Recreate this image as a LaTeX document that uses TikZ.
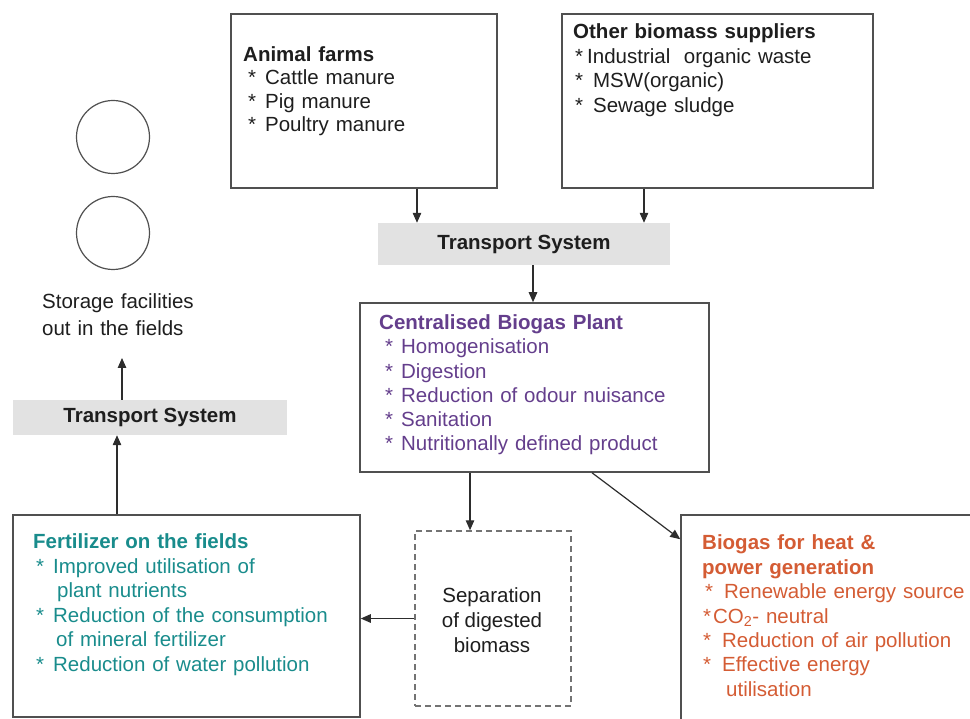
\documentclass[tikz,border=0pt]{standalone}
\usepackage{fontspec}
\setmainfont{Liberation Sans}
\usetikzlibrary{arrows.meta}

\definecolor{boxline}{RGB}{80,80,80}
\definecolor{arrline}{RGB}{45,45,45}
\definecolor{tsfill}{RGB}{226,226,226}
\definecolor{plantcol}{RGB}{100,62,140}
\definecolor{fertcol}{RGB}{25,140,140}
\definecolor{biocol}{RGB}{212,92,52}
\definecolor{txtcol}{RGB}{30,30,30}

\newcommand{\itm}[2]{\hspace*{#1}*\hspace{#2}}

\begin{document}
\begin{tikzpicture}[x=1pt,y=-1pt,>={Triangle[length=10pt,width=8.5pt]}]
    \tikzstyle{box}=[draw=boxline, line width=1.5pt, inner sep=0pt]
    \tikzstyle{tsbox}=[fill=tsfill, inner sep=0pt, font=\fontsize{20.5}{24.5}\selectfont\bfseries, text=txtcol]
    \tikzstyle{tank}=[circle, draw=boxline, line width=1.2pt, minimum size=73pt, inner sep=0pt]
    \tikzstyle{txt}=[anchor=base west, inner sep=0pt, text width=300pt, align=left, text=txtcol]
    \tikzstyle{arr}=[->, draw=arrline, line width=1.2pt]

    \useasboundingbox (0,0) rectangle (970,719);
    \clip (0,0) rectangle (970,719);

    % suppliers
    \node[box, minimum width=266pt, minimum height=174pt] (farms) at (364,101) {};
    \node[box, minimum width=311pt, minimum height=174pt] (others) at (717.5,101) {};
    \node[txt, font=\fontsize{20.5}{23.3}\selectfont] (farmstxt) at (243,61.5)
      {\textbf{Animal farms}\\
       \itm{5pt}{9pt}Cattle manure\\
       \itm{5pt}{9pt}Pig manure\\
       \itm{5pt}{9pt}Poultry manure};
    \node[txt, font=\fontsize{20.5}{24.7}\selectfont] (otherstxt) at (573,38.5)
      {\textbf{Other biomass suppliers}\\
       \itm{2pt}{4pt}Industrial\ \ organic waste\\
       \itm{2pt}{10pt}MSW(organic)\\
       \itm{2pt}{10pt}Sewage sludge};

    % transport
    \node[tsbox, minimum width=292pt, minimum height=42pt] (trans1) at (524,244) {Transport System};
    \node[tsbox, minimum width=274pt, minimum height=35pt] (trans2) at (150,417.5) {Transport System};

    % plant
    \node[box, minimum width=349pt, minimum height=169pt] (plant) at (534.5,387.5) {};
    \node[txt, font=\fontsize{20.5}{24.3}\selectfont, text=plantcol] (planttxt) at (379,329.5)
      {\textbf{Centralised Biogas Plant}\\
       \itm{6pt}{8pt}Homogenisation\\
       \itm{6pt}{8pt}Digestion\\
       \itm{6pt}{8pt}Reduction of odour nuisance\\
       \itm{6pt}{8pt}Sanitation\\
       \itm{6pt}{8pt}Nutritionally defined product};

    % storage
    \foreach \y/\n in {137/tank1,233/tank2} {\node[tank] (\n) at (113,\y) {};}
    \node[txt, font=\fontsize{20.5}{27}\selectfont] (store) at (42,309)
      {Storage facilities\\out in the fields};
    \coordinate (storetip) at (122,358);

    % products
    \node[box, minimum width=347pt, minimum height=202pt] (fert) at (186.5,616) {};
    \node[txt, font=\fontsize{20.5}{24.6}\selectfont, text=fertcol] (ferttxt) at (33,548.5)
      {\textbf{Fertilizer on the fields}\\
       \itm{3pt}{9pt}Improved utilisation of\\
       \hspace*{24pt}plant nutrients\\
       \itm{3pt}{9pt}Reduction of the consumption\\
       \hspace*{23pt}of mineral fertilizer\\
       \itm{3pt}{9pt}Reduction of water pollution};
    \node[box, draw=boxline!80, dash pattern=on 6pt off 4pt, minimum width=156pt, minimum height=175pt] (sep) at (493,618.5) {};
    \node[inner sep=0pt, align=center, text=txtcol, font=\fontsize{20.5}{25}\selectfont] (septxt) at (492,620)
      {Separation\\of digested\\biomass};
    \node[box, minimum width=319pt, minimum height=245pt] (bio) at (840.5,637.5) {};
    \node[txt, font=\fontsize{20.5}{24.5}\selectfont, text=biocol] (biotxt) at (702,549.5)
      {\textbf{Biogas for heat \&}\\
       \textbf{power generation}\\
       \itm{3pt}{11pt}Renewable energy source\\
       \itm{1pt}{2pt}CO\textsubscript{2}- neutral\\
       \itm{1pt}{11pt}Reduction of air pollution\\
       \itm{1pt}{11pt}Effective energy\\
       \hspace*{24pt}utilisation};

    % flows
    \draw[arr] ([xshift=53pt]farms.south) -- ([xshift=53pt]farms.south |- trans1.north);
    \draw[arr] ([xshift=-73.5pt]others.south) -- ([xshift=-73.5pt]others.south |- trans1.north);
    \draw[arr] ([xshift=9pt]trans1.south) -- ([xshift=9pt]trans1.south |- plant.north);
    \draw[arr] ([xshift=-64.5pt]plant.south) -- ([xshift=-64.5pt]plant.south |- sep.north);
    \draw[arr] ([xshift=57.5pt]plant.south) -- ([yshift=-25pt]bio.north west);
    \draw[arr] (sep.west) -- (sep.west -| fert.east);
    \draw[arr] ([xshift=-69.5pt]fert.north) -- ([xshift=-69.5pt]fert.north |- trans2.south);
    \draw[arr] ([xshift=-28pt]trans2.north) -- (storetip);
\end{tikzpicture}
\end{document}
